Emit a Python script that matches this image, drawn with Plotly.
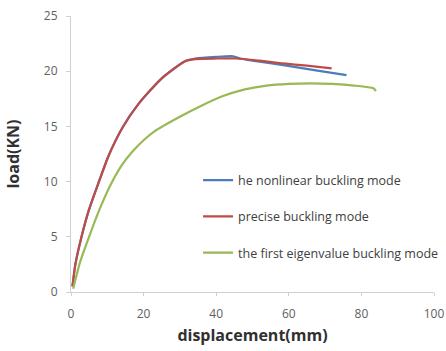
import plotly.graph_objects as go

# data (displacement mm, load kN)
blue_x = [0.4, 1.2, 2.9, 5.0, 7.7, 10.3, 14.2, 18.5, 25.0, 31.4, 34.2, 40.0, 44.7, 46.5, 50.0, 58.5, 67.0, 75.9]
blue_y = [0.5, 2.5, 5.0, 7.5, 10.0, 12.3, 14.9, 17.0, 19.35, 20.9, 21.15, 21.3, 21.35, 21.15, 20.95, 20.55, 20.1, 19.65]
red_x = [0.4, 1.2, 2.9, 5.0, 7.7, 10.3, 14.2, 18.5, 25.0, 31.4, 34.2, 40.0, 45.6, 52.0, 58.5, 65.0, 71.8]
red_y = [0.5, 2.5, 5.0, 7.5, 10.0, 12.3, 14.9, 17.0, 19.35, 20.9, 21.1, 21.15, 21.15, 20.95, 20.7, 20.5, 20.25]
green_x = [0.6, 2.5, 5.2, 8.0, 11.2, 14.0, 17.0, 20.0, 23.0, 29.6, 35.5, 41.5, 47.9, 53.9, 60.0, 65.8, 72.0, 78.0, 83.3, 84.0]
green_y = [0.3, 2.7, 5.2, 7.6, 9.9, 11.5, 12.75, 13.75, 14.55, 15.8, 16.8, 17.7, 18.35, 18.7, 18.85, 18.9, 18.85, 18.7, 18.45, 18.2]

names = ["he nonlinear buckling mode", "precise buckling mode", "the first eigenvalue buckling mode"]
colors = ["#4a7ebb", "#be4b48", "#98b954"]

x_ticks = [0, 20, 40, 60, 80, 100]
y_ticks = [0, 5, 10, 15, 20, 25]

fig = go.Figure()
for i, (xs, ys) in enumerate([(blue_x, blue_y), (red_x, red_y), (green_x, green_y)]):
    fig.add_trace(go.Scatter(x=xs, y=ys, mode="lines", name=names[i],
                             line=dict(color=colors[i], width=2.2, shape="spline", smoothing=0.6),
                             legendgroup=f"g{i}"))

fig.update_layout(
    width=446, height=351,
    margin=dict(l=71, r=12, t=16, b=59, autoexpand=False),
    paper_bgcolor="white", plot_bgcolor="white",
    font=dict(family="Open Sans", size=12, color="#404040"),
    showlegend=True,
    legend=dict(x=0.35, y=0.458, xanchor="left", yanchor="top",
                bgcolor="rgba(0,0,0,0)", tracegroupgap=17,
                font=dict(size=12.5, color="#404040"), itemwidth=30),
    xaxis=dict(range=[0, 100], tickvals=x_ticks, showgrid=False, zeroline=False,
               showline=True, linecolor="#d0d0d0", linewidth=1,
               ticks="outside", ticklen=3, tickcolor="#d0d0d0",
               ticklabelstandoff=8, automargin=False,
               tickfont=dict(size=12, color="#606060"),
               title=dict(text="<b>displacement(mm)</b>", font=dict(size=16, color="#303030"), standoff=8)),
    yaxis=dict(range=[0, 25], tickvals=y_ticks, showgrid=False, zeroline=False,
               showline=True, linecolor="#d0d0d0", linewidth=1,
               ticks="outside", ticklen=4, tickcolor="#d0d0d0",
               ticklabelstandoff=6, automargin=False,
               tickfont=dict(size=12, color="#606060"),
               title=dict(text="<b>load(KN)</b>", font=dict(size=16, color="#303030"), standoff=20)),
)

fig.write_html("out.html")
